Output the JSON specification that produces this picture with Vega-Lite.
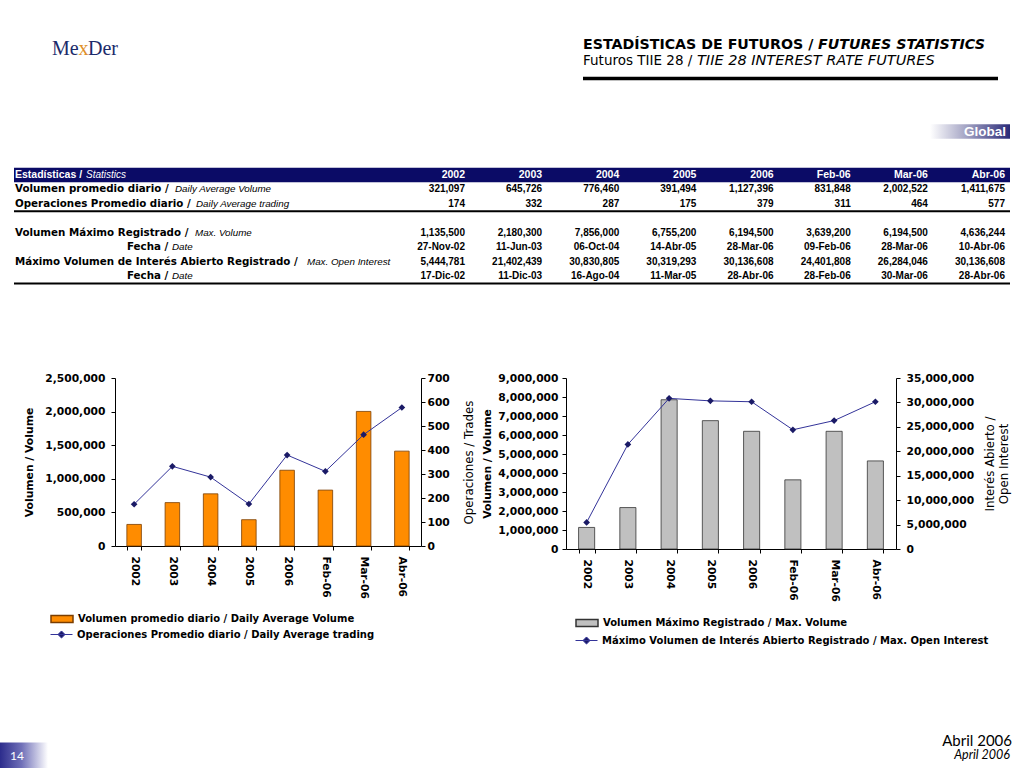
{
  "$schema": "https://vega.github.io/schema/vega-lite/v6.json",
  "background": "white",
  "padding": {"left": 0, "top": 37.5, "right": 0, "bottom": 0},
  "spacing": 83,
  "datasets": {
    "stats": [
      {"periodo": "2002", "vol_prom": 321097, "ops_prom": 174, "vol_max": 1135500, "fecha_vol_max": "27-Nov-02", "oi_max": 5444781, "fecha_oi_max": "17-Dic-02"},
      {"periodo": "2003", "vol_prom": 645726, "ops_prom": 332, "vol_max": 2180300, "fecha_vol_max": "11-Jun-03", "oi_max": 21402439, "fecha_oi_max": "11-Dic-03"},
      {"periodo": "2004", "vol_prom": 776460, "ops_prom": 287, "vol_max": 7856000, "fecha_vol_max": "06-Oct-04", "oi_max": 30830805, "fecha_oi_max": "16-Ago-04"},
      {"periodo": "2005", "vol_prom": 391494, "ops_prom": 175, "vol_max": 6755200, "fecha_vol_max": "14-Abr-05", "oi_max": 30319293, "fecha_oi_max": "11-Mar-05"},
      {"periodo": "2006", "vol_prom": 1127396, "ops_prom": 379, "vol_max": 6194500, "fecha_vol_max": "28-Mar-06", "oi_max": 30136608, "fecha_oi_max": "28-Abr-06"},
      {"periodo": "Feb-06", "vol_prom": 831848, "ops_prom": 311, "vol_max": 3639200, "fecha_vol_max": "09-Feb-06", "oi_max": 24401808, "fecha_oi_max": "28-Feb-06"},
      {"periodo": "Mar-06", "vol_prom": 2002522, "ops_prom": 464, "vol_max": 6194500, "fecha_vol_max": "28-Mar-06", "oi_max": 26284046, "fecha_oi_max": "30-Mar-06"},
      {"periodo": "Abr-06", "vol_prom": 1411675, "ops_prom": 577, "vol_max": 4636244, "fecha_vol_max": "10-Abr-06", "oi_max": 30136608, "fecha_oi_max": "28-Abr-06"}
    ],
    "rotulos": [
      {"fila": "hdr", "es": "Estadísticas /", "en": "Statistics"},
      {"fila": "vol_prom", "es": "Volumen promedio diario /", "en": "Daily Average Volume"},
      {"fila": "ops_prom", "es": "Operaciones Promedio diario /", "en": "Daily Average trading"},
      {"fila": "vol_max", "es": "Volumen Máximo Registrado /", "en": "Max. Volume"},
      {"fila": "fecha_vol_max", "es": "Fecha /", "en": "Date"},
      {"fila": "oi_max", "es": "Máximo Volumen de Interés Abierto Registrado /", "en": "Max. Open Interest"},
      {"fila": "fecha_oi_max", "es": "Fecha /", "en": "Date"}
    ],
    "textos": [
      {"logo1": "Me", "logo2": "x", "logo3": "Der", "titulo_es": "ESTADÍSTICAS DE FUTUROS /", "titulo_en": "FUTURES STATISTICS", "sub_es": "Futuros TIIE 28 /", "sub_en": "TIIE 28 INTEREST RATE FUTURES", "seccion": "Global", "num": "14", "fecha_es": "Abril 2006", "fecha_en": "April 2006"}
    ]
  },
  "vconcat": [
    {
      "spacing": 87.5,
      "vconcat": [
        {
          "width": 895,
          "height": 246,
          "layer": [
            {"data": {"name": "textos"}, "mark": {"type": "rect", "color": "#0b0b66"},
             "encoding": {"x": {"value": -101}, "x2": {"value": 895},
                          "y": {"datum": "hdr", "type": "nominal", "axis": null, "scale": {"type": "band", "domain": ["t1","t2","t3","s1","s2","s3","global","g1","g2","hdr","vol_prom","ops_prom","blank","vol_max","fecha_vol_max","oi_max","fecha_oi_max"], "paddingInner": 0, "paddingOuter": 0}}}},
            {"data": {"name": "textos"}, "mark": {"type": "rect", "fill": {"gradient": "linear", "x1": 0, "y1": 0, "x2": 1, "y2": 0, "stops": [{"offset": 0, "color": "#ffffff"}, {"offset": 0.45, "color": "#a4a4c4"}, {"offset": 1, "color": "#2a2a78"}]}},
             "encoding": {"x": {"value": 815}, "x2": {"value": 895},
                          "y": {"datum": "global", "type": "nominal", "axis": null, "scale": {"type": "band", "domain": ["t1","t2","t3","s1","s2","s3","global","g1","g2","hdr","vol_prom","ops_prom","blank","vol_max","fecha_vol_max","oi_max","fecha_oi_max"], "paddingInner": 0, "paddingOuter": 0}}}},
            {"data": {"name": "textos"}, "mark": {"type": "rule", "color": "#000000", "strokeWidth": 2},
             "encoding": {"x": {"value": -101}, "x2": {"value": 895},
                          "y": {"datum": "ops_prom", "type": "nominal", "axis": null, "bandPosition": 1, "scale": {"type": "band", "domain": ["t1","t2","t3","s1","s2","s3","global","g1","g2","hdr","vol_prom","ops_prom","blank","vol_max","fecha_vol_max","oi_max","fecha_oi_max"], "paddingInner": 0, "paddingOuter": 0}}}},
            {"data": {"name": "textos"}, "mark": {"type": "rule", "color": "#000000", "strokeWidth": 2},
             "encoding": {"x": {"value": -101}, "x2": {"value": 895},
                          "y": {"datum": "fecha_oi_max", "type": "nominal", "axis": null, "bandPosition": 1, "scale": {"type": "band", "domain": ["t1","t2","t3","s1","s2","s3","global","g1","g2","hdr","vol_prom","ops_prom","blank","vol_max","fecha_vol_max","oi_max","fecha_oi_max"], "paddingInner": 0, "paddingOuter": 0}}}},
            {"data": {"name": "textos"}, "mark": {"type": "rule", "color": "#000000", "strokeWidth": 3.5},
             "encoding": {"x": {"value": 468}, "x2": {"value": 883},
                          "y": {"datum": "t3", "type": "nominal", "axis": null, "bandPosition": 0.83, "scale": {"type": "band", "domain": ["t1","t2","t3","s1","s2","s3","global","g1","g2","hdr","vol_prom","ops_prom","blank","vol_max","fecha_vol_max","oi_max","fecha_oi_max"], "paddingInner": 0, "paddingOuter": 0}}}},
            {"data": {"name": "textos"}, "mark": {"type": "text", "align": "left", "baseline": "alphabetic", "font": "Liberation Serif", "fontSize": 20, "color": "#1b2b6b", "yOffset": 10},
             "encoding": {"x": {"value": -63}, "text": {"field": "logo1"},
                          "y": {"datum": "t1", "type": "nominal", "axis": null, "bandPosition": 0.5, "scale": {"type": "band", "domain": ["t1","t2","t3","s1","s2","s3","global","g1","g2","hdr","vol_prom","ops_prom","blank","vol_max","fecha_vol_max","oi_max","fecha_oi_max"], "paddingInner": 0, "paddingOuter": 0}}}},
            {"data": {"name": "textos"}, "mark": {"type": "text", "align": "left", "baseline": "alphabetic", "font": "Liberation Serif", "fontSize": 20, "color": "#e0902a", "yOffset": 10},
             "encoding": {"x": {"value": -36.5}, "text": {"field": "logo2"},
                          "y": {"datum": "t1", "type": "nominal", "axis": null, "bandPosition": 0.5, "scale": {"type": "band", "domain": ["t1","t2","t3","s1","s2","s3","global","g1","g2","hdr","vol_prom","ops_prom","blank","vol_max","fecha_vol_max","oi_max","fecha_oi_max"], "paddingInner": 0, "paddingOuter": 0}}}},
            {"data": {"name": "textos"}, "mark": {"type": "text", "align": "left", "baseline": "alphabetic", "font": "Liberation Serif", "fontSize": 20, "color": "#1b2b6b", "yOffset": 10},
             "encoding": {"x": {"value": -27}, "text": {"field": "logo3"},
                          "y": {"datum": "t1", "type": "nominal", "axis": null, "bandPosition": 0.5, "scale": {"type": "band", "domain": ["t1","t2","t3","s1","s2","s3","global","g1","g2","hdr","vol_prom","ops_prom","blank","vol_max","fecha_vol_max","oi_max","fecha_oi_max"], "paddingInner": 0, "paddingOuter": 0}}}},
            {"data": {"name": "textos"}, "mark": {"type": "text", "align": "left", "baseline": "middle", "font": "DejaVu Sans", "fontSize": 14.2, "fontWeight": "bold", "color": "#000000"},
             "encoding": {"x": {"value": 468}, "text": {"field": "titulo_es"},
                          "y": {"datum": "t1", "type": "nominal", "axis": null, "bandPosition": 0.5, "scale": {"type": "band", "domain": ["t1","t2","t3","s1","s2","s3","global","g1","g2","hdr","vol_prom","ops_prom","blank","vol_max","fecha_vol_max","oi_max","fecha_oi_max"], "paddingInner": 0, "paddingOuter": 0}}}},
            {"data": {"name": "textos"}, "mark": {"type": "text", "align": "left", "baseline": "middle", "font": "DejaVu Sans", "fontSize": 14.2, "fontWeight": "bold", "fontStyle": "italic", "color": "#000000"},
             "encoding": {"x": {"value": 703}, "text": {"field": "titulo_en"},
                          "y": {"datum": "t1", "type": "nominal", "axis": null, "bandPosition": 0.5, "scale": {"type": "band", "domain": ["t1","t2","t3","s1","s2","s3","global","g1","g2","hdr","vol_prom","ops_prom","blank","vol_max","fecha_vol_max","oi_max","fecha_oi_max"], "paddingInner": 0, "paddingOuter": 0}}}},
            {"data": {"name": "textos"}, "mark": {"type": "text", "align": "left", "baseline": "middle", "font": "DejaVu Sans", "fontSize": 13.5, "color": "#000000", "yOffset": 2},
             "encoding": {"x": {"value": 468}, "text": {"field": "sub_es"},
                          "y": {"datum": "t2", "type": "nominal", "axis": null, "bandPosition": 0.5, "scale": {"type": "band", "domain": ["t1","t2","t3","s1","s2","s3","global","g1","g2","hdr","vol_prom","ops_prom","blank","vol_max","fecha_vol_max","oi_max","fecha_oi_max"], "paddingInner": 0, "paddingOuter": 0}}}},
            {"data": {"name": "textos"}, "mark": {"type": "text", "align": "left", "baseline": "middle", "font": "DejaVu Sans", "fontSize": 14.5, "fontStyle": "italic", "color": "#000000", "yOffset": 2},
             "encoding": {"x": {"value": 582}, "text": {"field": "sub_en"},
                          "y": {"datum": "t2", "type": "nominal", "axis": null, "bandPosition": 0.5, "scale": {"type": "band", "domain": ["t1","t2","t3","s1","s2","s3","global","g1","g2","hdr","vol_prom","ops_prom","blank","vol_max","fecha_vol_max","oi_max","fecha_oi_max"], "paddingInner": 0, "paddingOuter": 0}}}},
            {"data": {"name": "textos"}, "mark": {"type": "text", "align": "right", "baseline": "middle", "font": "Liberation Sans", "fontSize": 13.5, "fontWeight": "bold", "color": "#ffffff"},
             "encoding": {"x": {"value": 891}, "text": {"field": "seccion"},
                          "y": {"datum": "global", "type": "nominal", "axis": null, "bandPosition": 0.5, "scale": {"type": "band", "domain": ["t1","t2","t3","s1","s2","s3","global","g1","g2","hdr","vol_prom","ops_prom","blank","vol_max","fecha_vol_max","oi_max","fecha_oi_max"], "paddingInner": 0, "paddingOuter": 0}}}},
            {"data": {"name": "stats"}, "mark": {"type": "text", "align": "right", "baseline": "middle", "font": "Liberation Sans", "fontSize": 10.5, "fontWeight": "bold", "color": "#ffffff"},
             "encoding": {"x": {"field": "periodo", "type": "nominal", "axis": null, "scale": {"type": "point", "domain": ["2002","2003","2004","2005","2006","Feb-06","Mar-06","Abr-06"], "range": [350, 890], "padding": 0}},
                          "text": {"field": "periodo"},
                          "y": {"datum": "hdr", "type": "nominal", "axis": null, "bandPosition": 0.5, "scale": {"type": "band", "domain": ["t1","t2","t3","s1","s2","s3","global","g1","g2","hdr","vol_prom","ops_prom","blank","vol_max","fecha_vol_max","oi_max","fecha_oi_max"], "paddingInner": 0, "paddingOuter": 0}}}},
            {"data": {"name": "rotulos"}, "transform": [{"filter": {"field": "fila", "equal": "hdr"}}],
             "mark": {"type": "text", "align": "left", "baseline": "middle", "font": "Liberation Sans", "fontSize": 10.5, "fontWeight": "bold", "color": "#ffffff"},
             "encoding": {"x": {"value": -100}, "text": {"field": "es"},
                          "y": {"field": "fila", "type": "nominal", "axis": null, "bandPosition": 0.5, "scale": {"type": "band", "domain": ["t1","t2","t3","s1","s2","s3","global","g1","g2","hdr","vol_prom","ops_prom","blank","vol_max","fecha_vol_max","oi_max","fecha_oi_max"], "paddingInner": 0, "paddingOuter": 0}}}},
            {"data": {"name": "rotulos"}, "transform": [{"filter": {"field": "fila", "equal": "hdr"}}],
             "mark": {"type": "text", "align": "left", "baseline": "middle", "font": "Liberation Sans", "fontSize": 10, "fontStyle": "italic", "color": "#ffffff"},
             "encoding": {"x": {"value": -29}, "text": {"field": "en"},
                          "y": {"field": "fila", "type": "nominal", "axis": null, "bandPosition": 0.5, "scale": {"type": "band", "domain": ["t1","t2","t3","s1","s2","s3","global","g1","g2","hdr","vol_prom","ops_prom","blank","vol_max","fecha_vol_max","oi_max","fecha_oi_max"], "paddingInner": 0, "paddingOuter": 0}}}},
            {"data": {"name": "rotulos"}, "transform": [{"filter": {"field": "fila", "oneOf": ["vol_prom", "ops_prom", "vol_max", "oi_max"]}}],
             "mark": {"type": "text", "align": "left", "baseline": "middle", "font": "DejaVu Sans", "fontSize": 10.3, "fontWeight": "bold", "color": "#000000"},
             "encoding": {"x": {"value": -100}, "text": {"field": "es"},
                          "y": {"field": "fila", "type": "nominal", "axis": null, "bandPosition": 0.5, "scale": {"type": "band", "domain": ["t1","t2","t3","s1","s2","s3","global","g1","g2","hdr","vol_prom","ops_prom","blank","vol_max","fecha_vol_max","oi_max","fecha_oi_max"], "paddingInner": 0, "paddingOuter": 0}}}},
            {"data": {"name": "rotulos"}, "transform": [{"filter": {"field": "fila", "oneOf": ["fecha_vol_max", "fecha_oi_max"]}}],
             "mark": {"type": "text", "align": "left", "baseline": "middle", "font": "DejaVu Sans", "fontSize": 10.3, "fontWeight": "bold", "color": "#000000"},
             "encoding": {"x": {"value": 12}, "text": {"field": "es"},
                          "y": {"field": "fila", "type": "nominal", "axis": null, "bandPosition": 0.5, "scale": {"type": "band", "domain": ["t1","t2","t3","s1","s2","s3","global","g1","g2","hdr","vol_prom","ops_prom","blank","vol_max","fecha_vol_max","oi_max","fecha_oi_max"], "paddingInner": 0, "paddingOuter": 0}}}},
            {"data": {"name": "rotulos"}, "transform": [{"filter": {"field": "fila", "equal": "vol_prom"}}],
             "mark": {"type": "text", "align": "left", "baseline": "middle", "font": "Liberation Sans", "fontSize": 9.8, "fontStyle": "italic", "color": "#000000"},
             "encoding": {"x": {"value": 60}, "text": {"field": "en"},
                          "y": {"field": "fila", "type": "nominal", "axis": null, "bandPosition": 0.5, "scale": {"type": "band", "domain": ["t1","t2","t3","s1","s2","s3","global","g1","g2","hdr","vol_prom","ops_prom","blank","vol_max","fecha_vol_max","oi_max","fecha_oi_max"], "paddingInner": 0, "paddingOuter": 0}}}},
            {"data": {"name": "rotulos"}, "transform": [{"filter": {"field": "fila", "equal": "ops_prom"}}],
             "mark": {"type": "text", "align": "left", "baseline": "middle", "font": "Liberation Sans", "fontSize": 9.8, "fontStyle": "italic", "color": "#000000"},
             "encoding": {"x": {"value": 81}, "text": {"field": "en"},
                          "y": {"field": "fila", "type": "nominal", "axis": null, "bandPosition": 0.5, "scale": {"type": "band", "domain": ["t1","t2","t3","s1","s2","s3","global","g1","g2","hdr","vol_prom","ops_prom","blank","vol_max","fecha_vol_max","oi_max","fecha_oi_max"], "paddingInner": 0, "paddingOuter": 0}}}},
            {"data": {"name": "rotulos"}, "transform": [{"filter": {"field": "fila", "equal": "vol_max"}}],
             "mark": {"type": "text", "align": "left", "baseline": "middle", "font": "Liberation Sans", "fontSize": 9.8, "fontStyle": "italic", "color": "#000000"},
             "encoding": {"x": {"value": 80}, "text": {"field": "en"},
                          "y": {"field": "fila", "type": "nominal", "axis": null, "bandPosition": 0.5, "scale": {"type": "band", "domain": ["t1","t2","t3","s1","s2","s3","global","g1","g2","hdr","vol_prom","ops_prom","blank","vol_max","fecha_vol_max","oi_max","fecha_oi_max"], "paddingInner": 0, "paddingOuter": 0}}}},
            {"data": {"name": "rotulos"}, "transform": [{"filter": {"field": "fila", "equal": "oi_max"}}],
             "mark": {"type": "text", "align": "left", "baseline": "middle", "font": "Liberation Sans", "fontSize": 9.8, "fontStyle": "italic", "color": "#000000"},
             "encoding": {"x": {"value": 192}, "text": {"field": "en"},
                          "y": {"field": "fila", "type": "nominal", "axis": null, "bandPosition": 0.5, "scale": {"type": "band", "domain": ["t1","t2","t3","s1","s2","s3","global","g1","g2","hdr","vol_prom","ops_prom","blank","vol_max","fecha_vol_max","oi_max","fecha_oi_max"], "paddingInner": 0, "paddingOuter": 0}}}},
            {"data": {"name": "rotulos"}, "transform": [{"filter": {"field": "fila", "oneOf": ["fecha_vol_max", "fecha_oi_max"]}}],
             "mark": {"type": "text", "align": "left", "baseline": "middle", "font": "Liberation Sans", "fontSize": 9.8, "fontStyle": "italic", "color": "#000000"},
             "encoding": {"x": {"value": 57}, "text": {"field": "en"},
                          "y": {"field": "fila", "type": "nominal", "axis": null, "bandPosition": 0.5, "scale": {"type": "band", "domain": ["t1","t2","t3","s1","s2","s3","global","g1","g2","hdr","vol_prom","ops_prom","blank","vol_max","fecha_vol_max","oi_max","fecha_oi_max"], "paddingInner": 0, "paddingOuter": 0}}}},
            {"data": {"name": "stats"}, "transform": [{"fold": ["vol_prom", "ops_prom", "vol_max", "oi_max"], "as": ["fila", "valor"]}],
             "mark": {"type": "text", "align": "right", "baseline": "middle", "font": "Liberation Sans", "fontSize": 10, "fontWeight": "bold", "color": "#000000"},
             "encoding": {"x": {"field": "periodo", "type": "nominal", "axis": null, "scale": {"type": "point", "domain": ["2002","2003","2004","2005","2006","Feb-06","Mar-06","Abr-06"], "range": [350, 890], "padding": 0}},
                          "text": {"field": "valor", "type": "quantitative", "format": ","},
                          "y": {"field": "fila", "type": "nominal", "axis": null, "bandPosition": 0.5, "scale": {"type": "band", "domain": ["t1","t2","t3","s1","s2","s3","global","g1","g2","hdr","vol_prom","ops_prom","blank","vol_max","fecha_vol_max","oi_max","fecha_oi_max"], "paddingInner": 0, "paddingOuter": 0}}}},
            {"data": {"name": "stats"}, "transform": [{"fold": ["fecha_vol_max", "fecha_oi_max"], "as": ["fila", "valor"]}],
             "mark": {"type": "text", "align": "right", "baseline": "middle", "font": "Liberation Sans", "fontSize": 10, "fontWeight": "bold", "color": "#000000"},
             "encoding": {"x": {"field": "periodo", "type": "nominal", "axis": null, "scale": {"type": "point", "domain": ["2002","2003","2004","2005","2006","Feb-06","Mar-06","Abr-06"], "range": [350, 890], "padding": 0}},
                          "text": {"field": "valor", "type": "nominal"},
                          "y": {"field": "fila", "type": "nominal", "axis": null, "bandPosition": 0.5, "scale": {"type": "band", "domain": ["t1","t2","t3","s1","s2","s3","global","g1","g2","hdr","vol_prom","ops_prom","blank","vol_max","fecha_vol_max","oi_max","fecha_oi_max"], "paddingInner": 0, "paddingOuter": 0}}}}
          ]
        },
        {
          "spacing": 5,
          "resolve": {"scale": {"fill": "independent", "stroke": "independent"}},
          "hconcat": [
            {
              "width": 306,
              "height": 168,
              "data": {"name": "stats"},
              "encoding": {
                "x": {"field": "periodo", "type": "nominal", "sort": null,
                      "scale": {"paddingInner": 0.62, "paddingOuter": 0.31},
                      "axis": {"title": null, "labelAngle": 90, "tickBand": "extent", "tickSize": 4, "labelPadding": 6}}
              },
              "layer": [
                {
                  "mark": {"type": "bar", "stroke": "#7a3d00", "strokeWidth": 0.8},
                  "encoding": {
                    "y": {"field": "vol_prom", "type": "quantitative",
                          "scale": {"domain": [0, 2500000], "nice": false},
                          "axis": {"orient": "left", "values": [0, 500000, 1000000, 1500000, 2000000, 2500000], "labelExpr": "format(datum.value, ',')", "title": "Volumen / Volume", "tickSize": 4, "labelPadding": 6, "titlePadding": 10}},
                    "fill": {"datum": "Volumen promedio diario / Daily Average Volume", "type": "nominal",
                             "scale": {"range": ["#FF8C00"]},
                             "legend": {"title": null, "orient": "none", "legendX": -65, "legendY": 229, "padding": 0,
                                        "symbolType": "M-1,-0.32H1V0.32H-1Z",
                                        "encode": {"symbols": {"update": {"stroke": {"value": "#7a3d00"}, "strokeWidth": {"value": 0.8}}}}}}
                  }
                },
                {
                  "mark": {"type": "line", "strokeWidth": 1, "point": {"shape": "diamond", "filled": true, "size": 45, "fill": "#1a1a66", "strokeWidth": 0}},
                  "encoding": {
                    "y": {"field": "ops_prom", "type": "quantitative",
                          "scale": {"domain": [0, 700], "nice": false},
                          "axis": {"orient": "right", "values": [0, 100, 200, 300, 400, 500, 600, 700], "title": "Operaciones / Trades", "titleAngle": 270, "titleBaseline": "top", "titleFontWeight": "normal", "titleFontSize": 11.8, "tickSize": 4, "labelPadding": 2, "titlePadding": 14}},
                    "stroke": {"datum": "Operaciones Promedio diario / Daily Average trading", "type": "nominal",
                               "scale": {"range": ["#333399"]},
                               "legend": {"title": null, "orient": "none", "legendX": -65, "legendY": 245, "padding": 0,
                                          "symbolType": "M-1,0H1M0,-0.32L0.32,0L0,0.32L-0.32,0Z",
                                          "encode": {"symbols": {"update": {"fill": {"value": "#1a1a66"}, "stroke": {"value": "#333399"}, "strokeWidth": {"value": 1}}}}}}
                  }
                }
              ],
              "resolve": {"scale": {"y": "independent"}}
            },
            {
              "width": 330,
              "height": 171,
              "data": {"name": "stats"},
              "encoding": {
                "x": {"field": "periodo", "type": "nominal", "sort": null,
                      "scale": {"paddingInner": 0.61, "paddingOuter": 0.305},
                      "axis": {"title": null, "labelAngle": 90, "tickBand": "extent", "tickSize": 4, "labelPadding": 6}}
              },
              "layer": [
                {
                  "mark": {"type": "bar", "stroke": "#333333", "strokeWidth": 0.8},
                  "encoding": {
                    "y": {"field": "vol_max", "type": "quantitative",
                          "scale": {"domain": [0, 9000000], "nice": false},
                          "axis": {"orient": "left", "values": [0, 1000000, 2000000, 3000000, 4000000, 5000000, 6000000, 7000000, 8000000, 9000000], "labelExpr": "format(datum.value, ',')", "title": "Volumen / Volume", "tickSize": 4, "labelPadding": 4, "titlePadding": 5}},
                    "fill": {"datum": "Volumen Máximo Registrado / Max. Volume", "type": "nominal",
                             "scale": {"range": ["#C0C0C0"]},
                             "legend": {"title": null, "orient": "none", "legendX": 9, "legendY": 233, "padding": 0,
                                        "symbolType": "M-1,-0.32H1V0.32H-1Z",
                                        "encode": {"symbols": {"update": {"stroke": {"value": "#333333"}, "strokeWidth": {"value": 0.8}}}}}}
                  }
                },
                {
                  "mark": {"type": "line", "strokeWidth": 1, "point": {"shape": "diamond", "filled": true, "size": 45, "fill": "#1a1a66", "strokeWidth": 0}},
                  "encoding": {
                    "y": {"field": "oi_max", "type": "quantitative",
                          "scale": {"domain": [0, 35000000], "nice": false},
                          "axis": {"orient": "right", "values": [0, 5000000, 10000000, 15000000, 20000000, 25000000, 30000000, 35000000], "labelExpr": "format(datum.value, ',')", "title": ["Interés Abierto /", "Open Interest"], "titleAngle": 270, "titleBaseline": "top", "titleFontWeight": "normal", "titleFontSize": 11.8, "titleLineHeight": 14, "tickSize": 4, "labelPadding": 6, "titlePadding": -3}},
                    "stroke": {"datum": "Máximo Volumen de Interés Abierto Registrado / Max. Open Interest", "type": "nominal",
                               "scale": {"range": ["#333399"]},
                               "legend": {"title": null, "orient": "none", "legendX": 9, "legendY": 251, "padding": 0,
                                          "symbolType": "M-1,0H1M0,-0.32L0.32,0L0,0.32L-0.32,0Z",
                                          "encode": {"symbols": {"update": {"fill": {"value": "#1a1a66"}, "stroke": {"value": "#333399"}, "strokeWidth": {"value": 1}}}}}}
                  }
                }
              ],
              "resolve": {"scale": {"y": "independent"}}
            }
          ]
        }
      ]
    },
    {
      "width": 897,
      "height": 38,
      "data": {"name": "textos"},
      "layer": [
        {"mark": {"type": "rect", "fill": {"gradient": "linear", "x1": 0, "y1": 0, "x2": 1, "y2": 0, "stops": [{"offset": 0, "color": "#2c2c8c"}, {"offset": 0.45, "color": "#7070b8"}, {"offset": 1, "color": "#ffffff"}]}},
         "encoding": {"x": {"value": -115}, "x2": {"value": -67}, "y": {"value": 12}, "y2": {"value": 38}}},
        {"mark": {"type": "text", "align": "center", "baseline": "middle", "font": "Lato", "fontSize": 12, "color": "#ffffff"},
         "encoding": {"x": {"value": -98}, "y": {"value": 25}, "text": {"field": "num"}}},
        {"mark": {"type": "text", "align": "right", "baseline": "middle", "font": "Lato", "fontSize": 15, "color": "#000000"},
         "encoding": {"x": {"value": 897}, "y": {"value": 10}, "text": {"field": "fecha_es"}}},
        {"mark": {"type": "text", "align": "right", "baseline": "middle", "font": "Lato", "fontSize": 12.5, "fontStyle": "italic", "color": "#000000"},
         "encoding": {"x": {"value": 895}, "y": {"value": 24}, "text": {"field": "fecha_en"}}}
      ]
    }
  ],
  "config": {
    "view": {"stroke": null},
    "axis": {"grid": false, "labelFont": "DejaVu Sans", "labelFontWeight": "bold", "labelFontSize": 10.7, "labelColor": "#000000",
             "titleFont": "DejaVu Sans", "titleFontWeight": "bold", "titleFontSize": 10.8, "titleColor": "#000000",
             "domainColor": "#000000", "tickColor": "#000000", "domainWidth": 1, "tickWidth": 1},
    "legend": {"labelFont": "DejaVu Sans", "labelFontWeight": "bold", "labelFontSize": 10, "labelColor": "#000000", "labelLimit": 600, "symbolSize": 484, "labelOffset": 4}
  }
}
